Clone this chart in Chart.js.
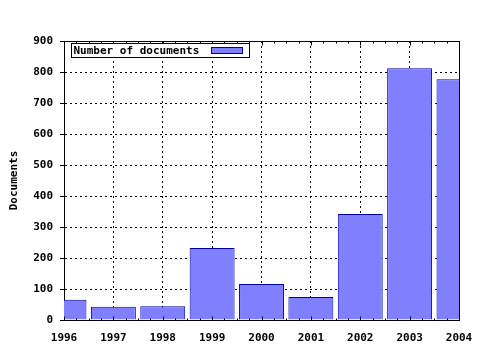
<!DOCTYPE html>
<html>
<head>
<meta charset="utf-8">
<script src="https://cdn.jsdelivr.net/npm/chart.js@4"></script>
<style>
  html, body { margin: 0; padding: 0; background: #fff; }
  #wrap { width: 480px; height: 350px; }
</style>
</head>
<body>
<div id="wrap"><canvas id="docsChart" width="480" height="350"></canvas></div>
<script>
// Chart data
const years = ['1996', '1997', '1998', '1999', '2000', '2001', '2002', '2003', '2004'];
const docCounts = [65, 43, 44, 232, 116, 74, 342, 812, 777];
const seriesLabel = 'Number of documents';
const axisTitle = 'Documents';

const FONT = 'DejaVu Sans Mono';

// Frame around the plot, inward minor ticks, legend inside the plot area
const framePlugin = {
    id: 'frame',
    afterDraw(chart) {
        const { ctx, chartArea: a } = chart;
        const xs = chart.scales.x;
        const top = Math.round(a.top) + 0.5;
        const bottom = Math.round(a.bottom) + 0.5;
        ctx.save();
        ctx.strokeStyle = '#000';
        ctx.lineWidth = 1;
        ctx.beginPath();
        ctx.moveTo(Math.round(a.left) + 0.5, top);
        ctx.lineTo(Math.round(a.right) + 0.5, top);
        ctx.lineTo(Math.round(a.right) + 0.5, bottom);
        ctx.stroke();

        // quarter-year ticks on top and bottom edges
        ctx.beginPath();
        for (let i = 0; i <= (years.length - 1) * 4; i++) {
            const px = Math.round(xs.getPixelForValue(i / 4)) + 0.5;
            const len = i % 4 === 0 ? 4 : 2;
            ctx.moveTo(px, top);
            ctx.lineTo(px, top + len);
            ctx.moveTo(px, bottom);
            ctx.lineTo(px, bottom - len);
        }
        ctx.stroke();

        // legend box
        const ds = chart.data.datasets[0];
        const x0 = Math.round(a.left) + 7.5, y0 = Math.round(a.top) + 2.5, w = 178, h = 14;
        ctx.fillStyle = '#fff';
        ctx.fillRect(x0, y0, w, h);
        ctx.strokeRect(x0, y0, w, h);
        ctx.font = 'bold 11px "' + FONT + '"';
        ctx.fillStyle = '#000';
        ctx.textBaseline = 'middle';
        ctx.fillText(ds.label, x0 + 2, y0 + h / 2 + 1);
        ctx.fillStyle = ds.backgroundColor;
        ctx.fillRect(x0 + 140, y0 + 4, 31, 6);
        ctx.strokeStyle = ds.borderColor;
        ctx.strokeRect(x0 + 140, y0 + 4, 31, 6);
        ctx.restore();
    }
};

const docsChart = new Chart(document.getElementById('docsChart'), {
    type: 'bar',
    data: {
        labels: years,
        datasets: [{
            label: seriesLabel,
            data: docCounts,
            backgroundColor: '#8080ff',
            borderColor: '#0000a0',
            borderWidth: 1,
            barPercentage: 0.91,
            categoryPercentage: 1
        }]
    },
    options: {
        responsive: false,
        animation: false,
        events: [],
        layout: { padding: { top: 41, right: 21, left: 0, bottom: 0 } },
        plugins: {
            legend: { display: false },
            tooltip: { enabled: false }
        },
        scales: {
            x: {
                offset: false,
                grid: {
                    offset: false,
                    color: '#000',
                    drawTicks: false
                },
                border: { color: '#000', dash: [2, 3] },
                ticks: {
                    color: '#000',
                    padding: 12,
                    maxRotation: 0,
                    font: { family: FONT, size: 11, weight: 'bold' }
                },
                afterFit(scale) {
                    scale.height = 30;
                    scale.paddingLeft = 0;
                    scale.paddingRight = 0;
                }
            },
            y: {
                min: 0,
                max: 900,
                ticks: {
                    stepSize: 100,
                    color: '#000',
                    padding: 7,
                    font: { family: FONT, size: 11, weight: 'bold' }
                },
                grid: {
                    color: '#000',
                    tickLength: 4,
                    tickColor: '#000',
                    tickBorderDash: []
                },
                border: { color: '#000', dash: [2, 3] },
                title: {
                    display: true,
                    text: axisTitle,
                    color: '#000',
                    padding: 8,
                    font: { family: FONT, size: 11, weight: 'bold' }
                },
                afterFit(scale) {
                    scale.width = 64;
                    scale.paddingTop = 0;
                    scale.paddingBottom = 0;
                }
            }
        }
    },
    plugins: [framePlugin]
});
</script>
</body>
</html>
